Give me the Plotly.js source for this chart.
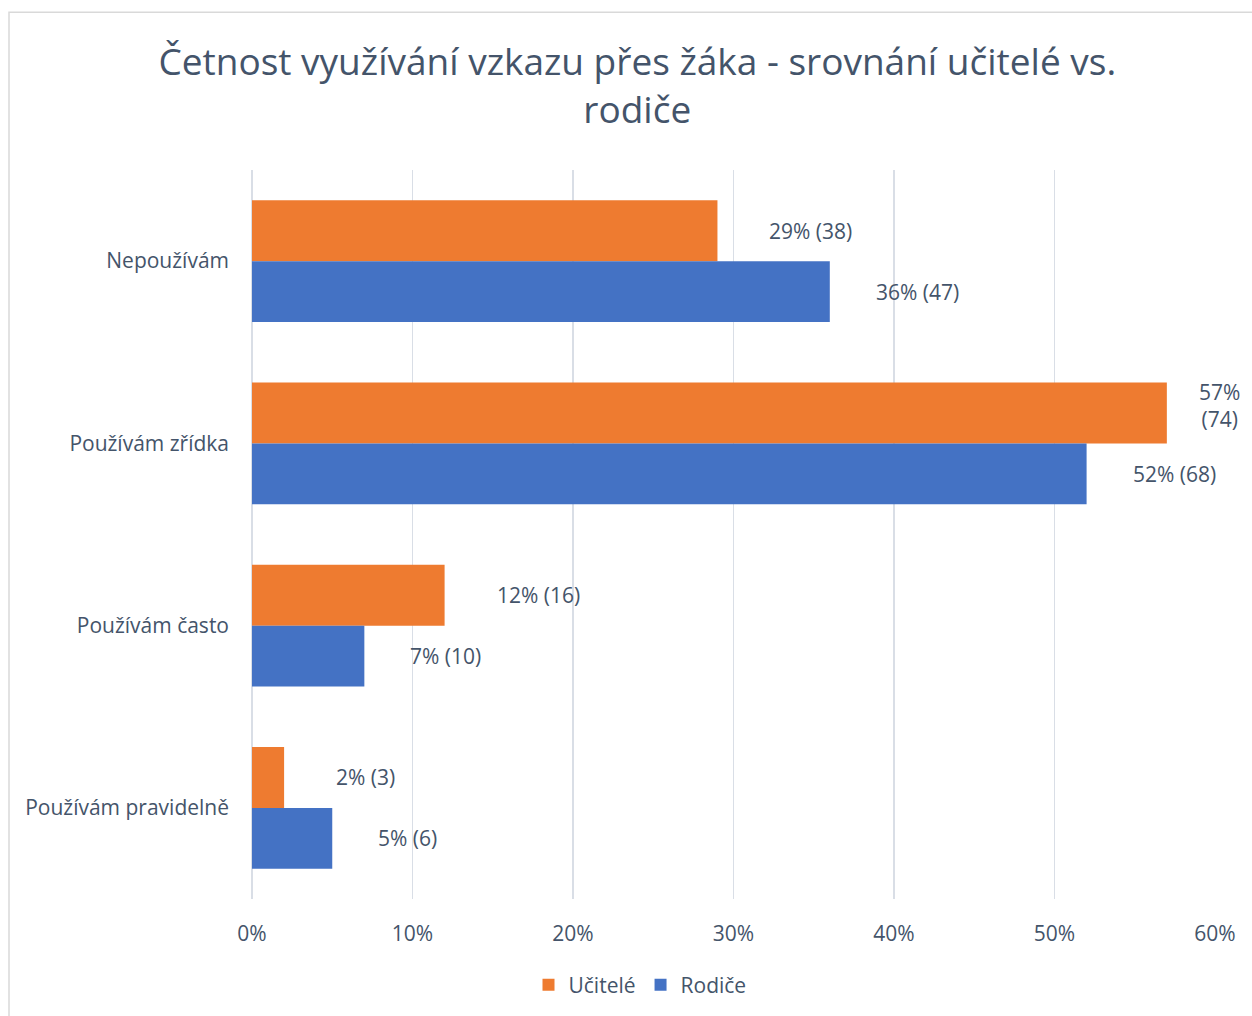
<!DOCTYPE html>
<html>
<head>
<meta charset="utf-8">
<script src="https://cdn.plot.ly/plotly-3.0.1.min.js"></script>
<style>html,body{margin:0;padding:0;background:#fff;}#chart{width:1252px;height:1016px;}</style>
</head>
<body>
<div id="chart"></div>
<script>
const categories = ['Nepoužívám', 'Používám zřídka', 'Používám často', 'Používám pravidelně'];
const teachersPct = [29, 57, 12, 2];
const teachersN = [38, 74, 16, 3];
const parentsPct = [36, 52, 7, 5];
const parentsN = [47, 68, 10, 6];
const seriesNames = ['Učitelé', 'Rodiče'];
const tickValues = [0, 10, 20, 30, 40, 50, 60];
const tickLabels = ['0%', '10%', '20%', '30%', '40%', '50%', '60%'];

const textColor = '#44546A';
const fontFamily = '"Open Sans", "Noto Sans", sans-serif';
const axisMax = 60;
const fs = 21;

function labelText(p, n) {
  // long labels near the right edge wrap onto two lines, as in the reference
  return (p > axisMax - 5) ? p + '%<br>(' + n + ')' : p + '% (' + n + ')';
}

const traces = [
  {type: 'bar', orientation: 'h', name: seriesNames[0], y: categories, x: teachersPct,
   marker: {color: '#EE7B30'}, hoverinfo: 'x+y'},
  {type: 'bar', orientation: 'h', name: seriesNames[1], y: categories, x: parentsPct,
   marker: {color: '#4472C4'}, hoverinfo: 'x+y'}
];

// data labels: annotation anchored at the bar end, placed on each bar of the group
const annotations = [];
const groupShift = 0.1667; // fraction of a category step (bar centre offset)
categories.forEach((c, i) => {
  const wrap = teachersPct[i] > axisMax - 5;
  annotations.push({x: teachersPct[i], y: i - groupShift, xref: 'x', yref: 'y',
    text: labelText(teachersPct[i], teachersN[i]), showarrow: false, xanchor: 'left',
    xshift: wrap ? 30 : 50, yshift: wrap ? 7 : 0, align: 'center',
    font: {family: fontFamily, size: fs, color: textColor}});
  annotations.push({x: parentsPct[i], y: i + groupShift, xref: 'x', yref: 'y',
    text: labelText(parentsPct[i], parentsN[i]), showarrow: false, xanchor: 'left',
    xshift: 44, align: 'center',
    font: {family: fontFamily, size: fs, color: textColor}});
});

const L = 252, R = 37, T = 170, B = 116;
const pw = 1252 - L - R, ph = 1016 - T - B;

const layout = {
  width: 1252, height: 1016,
  margin: {l: L, r: R, t: T, b: B, pad: 0},
  paper_bgcolor: '#ffffff', plot_bgcolor: '#ffffff',
  font: {family: fontFamily, color: textColor, size: fs},
  title: {text: 'Četnost využívání vzkazu přes žáka - srovnání učitelé vs.<br>rodiče',
    font: {family: fontFamily, size: 37, color: textColor},
    x: 0.509, xref: 'container', xanchor: 'center', y: 1 - 75 / 1016, yref: 'container', yanchor: 'middle'},
  barmode: 'group', bargap: 0.333, bargroupgap: 0,
  xaxis: {range: [0, axisMax], tickvals: tickValues, ticktext: tickLabels,
    showgrid: true, gridcolor: '#D9DEE6', gridwidth: 1.5, zeroline: true, zerolinecolor: '#D9DEE6', zerolinewidth: 1.5,
    showline: false, ticks: '', ticklabelstandoff: 20, fixedrange: true,
    tickfont: {family: fontFamily, size: fs, color: textColor}},
  yaxis: {autorange: 'reversed', type: 'category', showgrid: false, zeroline: false, showline: false,
    ticks: '', ticklabelstandoff: 22, tickfont: {family: fontFamily, size: fs, color: textColor}},
  legend: {orientation: 'h', x: (640 - L) / pw, xanchor: 'center', y: (T + ph - 985) / ph, yanchor: 'middle',
    font: {family: fontFamily, size: fs, color: textColor}, traceorder: 'normal', itemwidth: 30},
  annotations: annotations,
  shapes: [{type: 'rect', xref: 'paper', yref: 'paper',
    x0: (9 - L) / pw, x1: (1262 - L) / pw, y0: (T + ph - 1030) / ph, y1: (T + ph - 12) / ph,
    line: {color: '#D9D9D9', width: 1.5}, fillcolor: 'rgba(0,0,0,0)', layer: 'below'}],
  showlegend: true
};

Plotly.newPlot('chart', traces, layout, {displayModeBar: false, staticPlot: true});
</script>
</body>
</html>
